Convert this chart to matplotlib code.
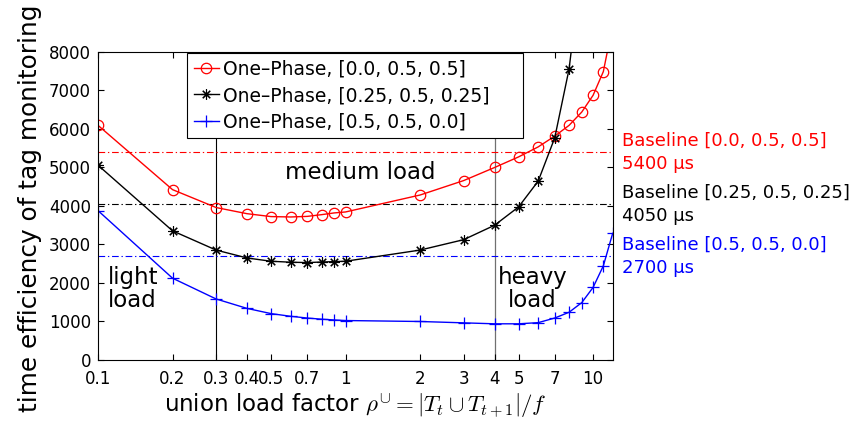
import numpy as np
import matplotlib
matplotlib.use("Agg")
import matplotlib.pyplot as plt
from matplotlib.ticker import FixedLocator, NullLocator

# ---- data ----
load_factor = [0.1, 0.2, 0.3, 0.4, 0.5, 0.6, 0.7, 0.8, 0.9, 1, 2, 3, 4, 5, 6, 7, 8, 9, 10, 11, 12]
eff_00_05_05 = [6095, 4425, 3960, 3800, 3725, 3715, 3730, 3775, 3820, 3845, 4285, 4660,
                5000, 5275, 5535, 5815, 6095, 6440, 6875, 7490, 8700]
eff_025_05_025 = [5060, 3355, 2855, 2650, 2565, 2540, 2530, 2545, 2555, 2565, 2855, 3125,
                  3500, 3975, 4645, 5770, 7560, 10300]
eff_05_05_00 = [3880, 2125, 1585, 1340, 1205, 1135, 1090, 1060, 1040, 1025, 1000, 965,
                940, 940, 970, 1090, 1240, 1490, 1885, 2445, 3290]

series_labels = ["One–Phase, [0.0, 0.5, 0.5]",
                 "One–Phase, [0.25, 0.5, 0.25]",
                 "One–Phase, [0.5, 0.5, 0.0]"]
baseline_values = [5400, 4050, 2700]
baseline_labels = ["Baseline [0.0, 0.5, 0.5]\n5400 μs",
                   "Baseline [0.25, 0.5, 0.25]\n4050 μs",
                   "Baseline [0.5, 0.5, 0.0]\n2700 μs"]
colors = ["#ff0000", "#000000", "#0000ff"]

xticks = [0.1, 0.2, 0.3, 0.4, 0.5, 0.7, 1, 2, 3, 4, 5, 7, 10]
xtick_labels = ["0.1", "0.2", "0.3", "0.4", "0.5", "0.7", "1", "2", "3", "4", "5", "7", "10"]
yticks = [0, 1000, 2000, 3000, 4000, 5000, 6000, 7000, 8000]
region_bounds = [0.3, 4]

plt.rcParams["font.family"] = ["DejaVu Sans"]
plt.rcParams["mathtext.fontset"] = "cm"

fig = plt.figure(figsize=(8.5, 4.21), dpi=100)
ax = fig.add_axes([0.1153, 0.1449, 0.6055, 0.7316])

# region separators
ax.axvline(region_bounds[0], color="black", lw=0.8, zorder=1)
ax.axvline(region_bounds[1], color="#707070", lw=0.9, zorder=1)

# baselines
for val, c in zip(baseline_values, colors):
    ax.axhline(val, color=c, lw=0.8, ls=(0, (6, 2.5, 1.2, 2.5)), zorder=1)

ax.plot(load_factor, eff_00_05_05, color=colors[0], lw=1.0, marker="o", ms=7.5,
        mfc="none", mew=0.9, label=series_labels[0])
ax.plot(load_factor[:len(eff_025_05_025)], eff_025_05_025, color=colors[1], lw=1.0,
        marker=(8, 2, 0), ms=7.5, mew=0.8, label=series_labels[1])
ax.plot(load_factor, eff_05_05_00, color=colors[2], lw=1.0, marker="+", ms=9,
        mew=0.9, label=series_labels[2])

ax.set_xscale("log")
ax.set_xlim(0.1, 12)
ax.set_ylim(0, 8000)
ax.xaxis.set_major_locator(FixedLocator(xticks))
ax.xaxis.set_minor_locator(NullLocator())
ax.set_xticklabels(xtick_labels)
ax.set_yticks(yticks)
ax.tick_params(axis="both", which="both", direction="in", top=True, right=True,
               length=4, width=0.8, labelsize=12)
ax.tick_params(axis="x", pad=7)
ax.tick_params(axis="y", pad=5)
for sp in ax.spines.values():
    sp.set_linewidth(0.8)

ax.set_xlabel(r"union load factor $\rho^{\cup}=|T_t\cup T_{t+1}|/f$", fontsize=16.5)
ax.set_ylabel("time efficiency of tag monitoring", fontsize=17.8)
ax.xaxis.set_label_coords(0.5, -0.1)
ax.yaxis.set_label_coords(-0.109, 0.492)

# load region annotations
ax.text(1.15, 4880, "medium load", fontsize=16.5, ha="center", va="center")
ax.text(0.138, 1850, "light\nload", fontsize=16.5, ha="center", va="center",
        linespacing=1.0)
ax.text(5.69, 1845, "heavy\nload", fontsize=16.5, ha="center", va="center",
        linespacing=1.0)

# baseline labels right of the axes
for val, txt, c in zip(baseline_values, baseline_labels, colors):
    ax.text(1.018, val, txt, transform=ax.get_yaxis_transform(), color=c,
            fontsize=13, ha="left", va="center", linespacing=1.4, clip_on=False)

leg = ax.legend(loc="upper left", bbox_to_anchor=(0.173, 0.0, 0.653, 0.998),
                mode="expand", fontsize=13.5, handlelength=1.35, handletextpad=0.2,
                borderpad=0.35, labelspacing=0.42, borderaxespad=0,
                fancybox=False, framealpha=1, edgecolor="black")
leg.get_frame().set_linewidth(0.8)

fig.savefig("out.png", dpi=100)
